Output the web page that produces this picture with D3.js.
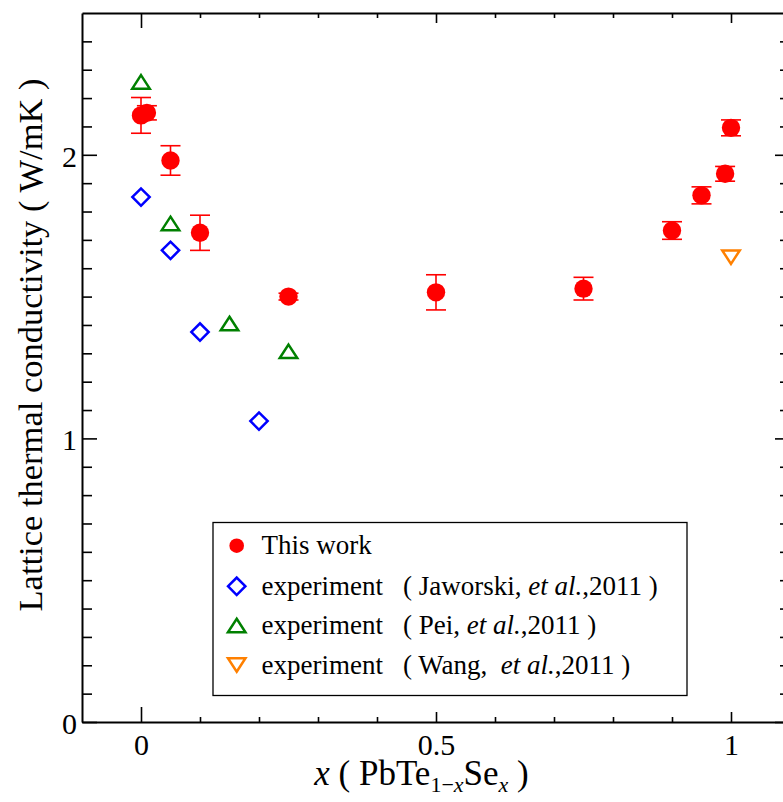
<!DOCTYPE html>
<html>
<head>
<meta charset="utf-8">
<script src="https://cdn.jsdelivr.net/npm/d3@7"></script>
<style>
  html, body { margin: 0; padding: 0; background: #fff; overflow: hidden; }
  svg { display: block; }
</style>
</head>
<body>
<svg id="chart" width="783" height="802"></svg>
<script>
// ---- data ----
const thisWorkX   = [0, 0.01, 0.05, 0.1, 0.25, 0.5, 0.75, 0.9, 0.95, 0.99, 1.0];
const thisWorkY   = [2.139, 2.148, 1.98, 1.725, 1.50, 1.515, 1.528, 1.733, 1.857, 1.933, 2.095];
const thisWorkErr = [0.063, 0.025, 0.052, 0.062, 0.012, 0.062, 0.04, 0.031, 0.03, 0.026, 0.028];

const jaworskiX = [0, 0.05, 0.1, 0.2];
const jaworskiY = [1.851, 1.663, 1.375, 1.061];

const peiX = [0, 0.05, 0.15, 0.25];
const peiY = [2.257, 1.758, 1.405, 1.307];

const wangX = [1.0];
const wangY = [1.639];

const xMajorTicks = [0, 0.5, 1];
const xMinorTicks = [0.1, 0.2, 0.3, 0.4, 0.6, 0.7, 0.8, 0.9, 1.1];
const xTickLabels = ["0", "0.5", "1"];
const yMajorTicks = [0, 1, 2];
const yMinorTicks = d3.range(1, 25).filter(i => i % 10 !== 0).map(i => i / 10);
const yTickLabels = ["0", "1", "2"];

const legendLabels = [
  { main: "This work", pre: "", it: "", post: "" },
  { main: "experiment", pre: "( Jaworski, ", it: "et al.", post: ",2011 )" },
  { main: "experiment", pre: "( Pei, ", it: "et al.", post: ",2011 )" },
  { main: "experiment", pre: "( Wang,\u00a0\u00a0", it: "et al.", post: ",2011 )" }
];

const FONT = '"Liberation Serif", "Times New Roman", serif';

// ---- layout ----
const svg = d3.select("#chart");
const x = d3.scaleLinear().domain([-0.1, 1.1]).range([82, 790]);
const y = d3.scaleLinear().domain([0, 2.5]).range([722, 13]);
const x0 = x.range()[0], x1 = x.range()[1], y0 = y.range()[0], y1 = y.range()[1];

const RED = "#ff0000", BLUE = "#0000ff", GREEN = "#008000", ORANGE = "#ff8000";

// ---- axes ----
function styleAxis(g) {
  g.style("font-family", FONT);
  g.select(".domain").attr("stroke", "#000").attr("stroke-width", 2);
  g.selectAll(".tick line").attr("stroke", "#000").attr("stroke-width", 1.6);
  g.selectAll(".tick text").style("font-family", FONT)
    .attr("font-size", 30).attr("fill", "#000");
}

// bottom
const gB = svg.append("g").attr("transform", `translate(0,${y0})`)
  .call(d3.axisBottom(x).tickValues(xMajorTicks).tickFormat((d, i) => xTickLabels[i])
        .tickSizeInner(-10).tickSizeOuter(0).tickPadding(12));
styleAxis(gB);
gB.selectAll(".tick").filter(d => d === 0).select("line").attr("y2", -15);
const gBm = svg.append("g").attr("transform", `translate(0,${y0})`)
  .call(d3.axisBottom(x).tickValues(xMinorTicks).tickFormat("").tickSizeInner(-5).tickSizeOuter(0));
gBm.select(".domain").remove(); styleAxis(gBm);

// top
const gT = svg.append("g").attr("transform", `translate(0,${y1})`)
  .call(d3.axisTop(x).tickValues(xMajorTicks).tickFormat("").tickSizeInner(-10).tickSizeOuter(0));
styleAxis(gT);
gT.selectAll(".tick").filter(d => d === 0).select("line").attr("y2", 15);
const gTm = svg.append("g").attr("transform", `translate(0,${y1})`)
  .call(d3.axisTop(x).tickValues(xMinorTicks).tickFormat("").tickSizeInner(-5).tickSizeOuter(0));
gTm.select(".domain").remove(); styleAxis(gTm);

// left
const gL = svg.append("g").attr("transform", `translate(${x0},0)`)
  .call(d3.axisLeft(y).tickValues(yMajorTicks).tickFormat((d, i) => yTickLabels[i])
        .tickSizeInner(-15).tickSizeOuter(0).tickPadding(5));
styleAxis(gL);
gL.selectAll(".tick text").attr("dy", "0.38em");
const gLm = svg.append("g").attr("transform", `translate(${x0},0)`)
  .call(d3.axisLeft(y).tickValues(yMinorTicks).tickFormat("").tickSizeInner(-10).tickSizeOuter(0));
gLm.select(".domain").remove(); styleAxis(gLm);

// right
const gR = svg.append("g").attr("transform", `translate(${x1},0)`)
  .call(d3.axisRight(y).tickValues(yMajorTicks).tickFormat("").tickSizeInner(-15).tickSizeOuter(0));
styleAxis(gR);
const gRm = svg.append("g").attr("transform", `translate(${x1},0)`)
  .call(d3.axisRight(y).tickValues(yMinorTicks).tickFormat("").tickSizeInner(-10).tickSizeOuter(0));
gRm.select(".domain").remove(); styleAxis(gRm);

// ---- marker paths ----
const diamondPath = d3.symbol().type(d3.symbolSquare).size(150)();
function triPath(w, h, down) {
  const s = down ? -1 : 1;
  return `M0,${-s * h / 2}L${w / 2},${s * h / 2}L${-w / 2},${s * h / 2}Z`;
}

// ---- data marks ----
const twData = thisWorkX.map((d, i) => ({ x: d, y: thisWorkY[i], e: thisWorkErr[i] }));
const gTW = svg.append("g");
const eb = gTW.selectAll("g.eb").data(twData).join("g").attr("class", "eb")
  .attr("stroke", RED).attr("stroke-width", 1.6);
eb.append("line").attr("x1", d => x(d.x)).attr("x2", d => x(d.x))
  .attr("y1", d => y(d.y - d.e)).attr("y2", d => y(d.y + d.e));
eb.append("line").attr("x1", d => x(d.x) - 10).attr("x2", d => x(d.x) + 10)
  .attr("y1", d => y(d.y + d.e)).attr("y2", d => y(d.y + d.e));
eb.append("line").attr("x1", d => x(d.x) - 10).attr("x2", d => x(d.x) + 10)
  .attr("y1", d => y(d.y - d.e)).attr("y2", d => y(d.y - d.e));
gTW.selectAll("circle").data(twData).join("circle")
  .attr("cx", d => x(d.x)).attr("cy", d => y(d.y)).attr("r", 9.2).attr("fill", RED);

const jwData = jaworskiX.map((d, i) => ({ x: d, y: jaworskiY[i] }));
svg.append("g").selectAll("path").data(jwData).join("path")
  .attr("d", diamondPath)
  .attr("transform", d => `translate(${x(d.x)},${y(d.y)}) rotate(45)`)
  .attr("fill", "none").attr("stroke", BLUE).attr("stroke-width", 2.5);

const peiData = peiX.map((d, i) => ({ x: d, y: peiY[i] }));
svg.append("g").selectAll("path").data(peiData).join("path")
  .attr("d", triPath(17.5, 13.5, false))
  .attr("transform", d => `translate(${x(d.x)},${y(d.y)})`)
  .attr("fill", "none").attr("stroke", GREEN).attr("stroke-width", 2.5);

const wangData = wangX.map((d, i) => ({ x: d, y: wangY[i] }));
svg.append("g").selectAll("path").data(wangData).join("path")
  .attr("d", triPath(17.5, 13.5, true))
  .attr("transform", d => `translate(${x(d.x)},${y(d.y)})`)
  .attr("fill", "none").attr("stroke", ORANGE).attr("stroke-width", 2.5);

// ---- axis titles ----
svg.append("text")
  .attr("transform", "translate(41.5,345) rotate(-90)")
  .attr("text-anchor", "middle").attr("font-size", 34.5)
  .style("font-family", FONT)
  .text("Lattice thermal conductivity ( W/mK )");

const xl = svg.append("text").attr("x", 421.5).attr("y", 785)
  .attr("text-anchor", "middle").attr("font-size", 35)
  .style("font-family", FONT);
xl.append("tspan").attr("font-style", "italic").text("x");
xl.append("tspan").text(" ( PbTe");
xl.append("tspan").attr("font-size", 22).attr("dy", 7).text("1\u2212");
xl.append("tspan").attr("font-size", 22).attr("font-style", "italic").text("x");
xl.append("tspan").attr("dy", -7).text("Se");
xl.append("tspan").attr("font-size", 22).attr("font-style", "italic").attr("dy", 7).text("x");
xl.append("tspan").attr("dy", -7).text(" )");

// ---- legend ----
const lg = svg.append("g");
lg.append("rect").attr("x", 213).attr("y", 522.5).attr("width", 474).attr("height", 173)
  .attr("fill", "#fff").attr("stroke", "#000").attr("stroke-width", 1.3);
const rowY = [545.7, 586.3, 625.5, 665];
const mx = 236.7;
lg.append("circle").attr("cx", mx).attr("cy", rowY[0]).attr("r", 7.3).attr("fill", RED);
lg.append("path").attr("d", diamondPath).attr("transform", `translate(${mx},${rowY[1]}) rotate(45)`)
  .attr("fill", "none").attr("stroke", BLUE).attr("stroke-width", 2.5);
lg.append("path").attr("d", triPath(17.5, 13.5, false)).attr("transform", `translate(${mx},${rowY[2]})`)
  .attr("fill", "none").attr("stroke", GREEN).attr("stroke-width", 2.5);
lg.append("path").attr("d", triPath(17.5, 13.5, true)).attr("transform", `translate(${mx},${rowY[3]})`)
  .attr("fill", "none").attr("stroke", ORANGE).attr("stroke-width", 2.5);

legendLabels.forEach((l, i) => {
  lg.append("text").attr("x", 261.5).attr("y", rowY[i] + 8.7).attr("font-size", 27)
    .style("font-family", FONT).text(l.main);
  if (l.pre) {
    const t = lg.append("text").attr("x", 403).attr("y", rowY[i] + 8.7).attr("font-size", 27)
      .style("font-family", FONT);
    t.append("tspan").text(l.pre);
    t.append("tspan").attr("font-style", "italic").text(l.it);
    t.append("tspan").text(l.post);
  }
});
</script>
</body>
</html>
